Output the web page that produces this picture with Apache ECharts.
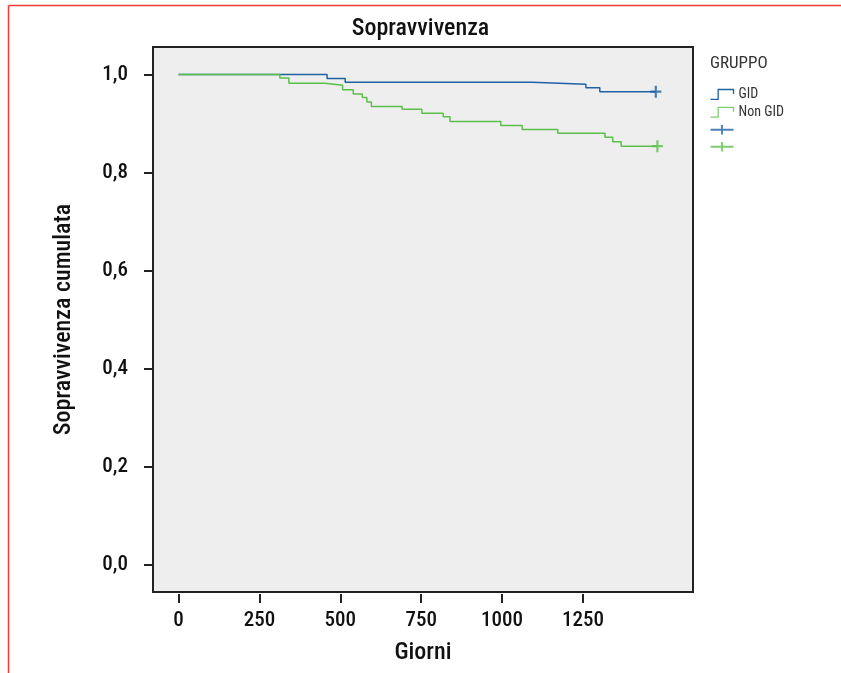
<!DOCTYPE html>
<html>
<head>
    <meta charset="utf-8" />
    <title>Sopravvivenza</title>
    <script type="text/javascript" src="https://cdn.jsdelivr.net/npm/echarts@6/dist/echarts.min.js"></script>
    <style>
        html, body { margin: 0; padding: 0; background: #fff; }
        #chart { width: 841px; height: 673px; }
    </style>
</head>
<body>
<div id="chart"></div>
<script type="text/javascript">
    // curve di Kaplan-Meier
    var gidTimes = [0, 459, 515, 1093, 1259, 1302, 1475];
    var gidSurv = [1.0, 0.992, 0.984, 0.980, 0.973, 0.965, 0.965];
    var nonGidTimes = [0, 313, 341, 453, 507, 540, 568, 582, 596, 691, 752, 818, 839, 996, 1062, 1172, 1318, 1342, 1368, 1480];
    var nonGidSurv = [1.0, 0.993, 0.982, 0.978, 0.969, 0.960, 0.953, 0.944, 0.935, 0.929, 0.921, 0.914, 0.904, 0.896, 0.888, 0.880, 0.872, 0.863, 0.854, 0.854];
    // casi censurati
    var gidCensTimes = [1475];
    var gidCensSurv = [0.965];
    var nonGidCensTimes = [1480];
    var nonGidCensSurv = [0.854];

    var xTicks = [0, 250, 500, 750, 1000, 1250];
    var yTicks = [0, 0.2, 0.4, 0.6, 0.8, 1.0];

    var blue = '#1f62a4';
    var green = '#5cbf4c';
    var font = "'Liberation Sans Narrow', 'Roboto Condensed', 'DejaVu Sans Condensed', sans-serif";
    var stepIcon = 'path://M0,10H7V1H21V5';
    var plusIcon = 'path://M0,4H24V6H0Z M11,0H13V10H11Z';
    var censIcon = 'path://M4,0H6V4H10V6H6V10H4V6H0V4H4Z';

    function pairs(xs, ys) {
        var out = [];
        for (var i = 0; i < xs.length; i++) {
            out.push([xs[i], ys[i]]);
        }
        return out;
    }

    var myChart = echarts.init(document.getElementById('chart'));

    var option = {
        backgroundColor: '#fff',
        animation: false,
        title: [
            {
                text: 'Sopravvivenza',
                left: 'center',
                top: 12,
                textStyle: { fontFamily: font, fontSize: 24, fontWeight: 500, color: '#111' }
            },
            {
                text: 'GRUPPO',
                left: 705,
                top: 50,
                textStyle: { fontFamily: font, fontSize: 17, fontWeight: 'normal', color: '#333' }
            }
        ],
        legend: {
            orient: 'vertical',
            left: 703,
            top: 82,
            itemWidth: 23,
            itemHeight: 10,
            itemGap: 3,
            textStyle: { fontFamily: font, fontSize: 14, color: '#333' },
            formatter: function (name) {
                return name.indexOf('cens') >= 0 ? ' ' : name;
            },
            data: [
                { name: 'GID', icon: stepIcon, itemStyle: { color: 'none', borderColor: blue, borderWidth: 1.3 } },
                { name: 'Non GID', icon: stepIcon, itemStyle: { color: 'none', borderColor: '#7fd06c', borderWidth: 1.3 } },
                { name: 'GID cens', icon: plusIcon, itemStyle: { color: blue } },
                { name: 'Non GID cens', icon: plusIcon, itemStyle: { color: green } }
            ]
        },
        grid: {
            left: 153,
            top: 47,
            right: 148,
            bottom: 81,
            show: true,
            backgroundColor: '#eeeeee',
            borderColor: '#222',
            borderWidth: 2
        },
        xAxis: {
            type: 'value',
            min: -79,
            max: 1590,
            offset: 2,
            name: 'Giorni',
            nameLocation: 'middle',
            nameGap: 47,
            nameTextStyle: { fontFamily: font, fontSize: 24, fontWeight: 500, color: '#111' },
            splitLine: { show: false },
            axisLine: { show: false, onZero: false },
            axisTick: { show: true, length: 9, customValues: xTicks, lineStyle: { color: '#222', width: 2 } },
            axisLabel: {
                customValues: xTicks,
                margin: 16,
                fontFamily: font,
                fontSize: 21,
                fontWeight: 500,
                color: '#111',
                formatter: function (v) {
                    return String(v);
                }
            }
        },
        yAxis: {
            type: 'value',
            min: -0.0546,
            max: 1.056,
            name: 'Sopravvivenza cumulata',
            nameLocation: 'middle',
            nameGap: 77,
            nameTextStyle: { fontFamily: font, fontSize: 24, fontWeight: 500, color: '#111' },
            splitLine: { show: false },
            axisLine: { show: false, onZero: false },
            axisTick: { show: true, length: 9, customValues: yTicks, lineStyle: { color: '#222', width: 2 } },
            axisLabel: {
                customValues: yTicks,
                margin: 25,
                fontFamily: font,
                fontSize: 21,
                fontWeight: 500,
                color: '#111',
                formatter: function (v) {
                    return v.toFixed(1).replace('.', ',');
                }
            }
        },
        graphic: [
            { type: 'line', shape: { x1: 8.5, y1: 5.5, x2: 841, y2: 5.5 }, style: { stroke: '#ef3a3a', lineWidth: 1.5 } },
            { type: 'line', shape: { x1: 8.5, y1: 5.5, x2: 8.5, y2: 673 }, style: { stroke: '#ef3a3a', lineWidth: 1.5 } }
        ],
        series: [
            {
                name: 'GID',
                type: 'line',
                step: 'end',
                symbol: 'none',
                color: blue,
                lineStyle: { color: blue, width: 1.5 },
                data: pairs(gidTimes, gidSurv)
            },
            {
                name: 'Non GID',
                type: 'line',
                step: 'end',
                symbol: 'none',
                color: green,
                lineStyle: { color: green, width: 1.5 },
                data: pairs(nonGidTimes, nonGidSurv)
            },
            {
                name: 'GID cens',
                type: 'scatter',
                symbol: censIcon,
                symbolSize: [11, 12],
                itemStyle: { color: blue },
                data: pairs(gidCensTimes, gidCensSurv)
            },
            {
                name: 'Non GID cens',
                type: 'scatter',
                symbol: censIcon,
                symbolSize: [11, 12],
                itemStyle: { color: green },
                data: pairs(nonGidCensTimes, nonGidCensSurv)
            }
        ]
    };
    myChart.setOption(option);
</script>
</body>
</html>
